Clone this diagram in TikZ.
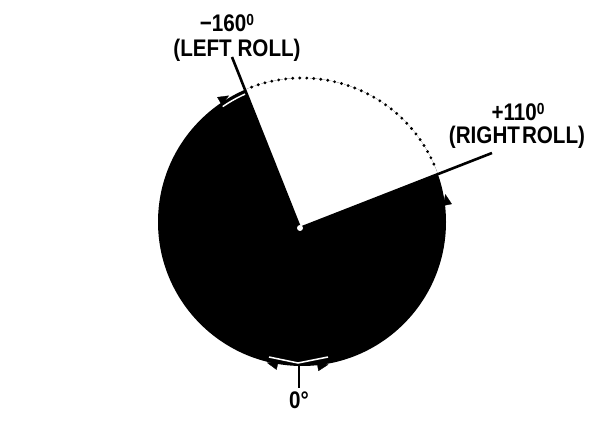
\documentclass[tikz,border=0pt]{standalone}
\usepackage{fontspec}
\setmainfont{Liberation Sans}[FakeStretch=0.86]
\usetikzlibrary{arrows.meta}
\begin{document}
\begin{tikzpicture}[x=1pt,y=1pt,
  lbl/.style={font=\bfseries\fontsize{24}{24}\selectfont, inner sep=0pt},
  limitline/.style={line width=2.6pt},
  dotmark/.style={fill=black},
  whiteedge/.style={white, line width=1.5pt},
  edgearrow/.style={white, line width=0.3pt, -{Triangle[length=11pt,width=9pt,black]}},
  tick/.style={line width=1.8pt}
]
\useasboundingbox (0,0) rectangle (603,423);
\coordinate (C) at (302,201);
\coordinate (P) at (300,195);
\coordinate (L) at (232,366);
\coordinate (R) at (492,270);
% disc and open wedge
\fill[black] (C) circle[radius=144];
\fill[white] (P) -- ([shift={(113.3:144)}]C) arc[start angle=113.3,end angle=19.8,radius=144] -- cycle;
% dotted arc across the opening
\foreach \a in {110.5,107.7,...,22} {
  \fill[dotmark] ([shift={(\a:144)}]C) circle[radius=1.6];
}
% limit lines
\draw[limitline] (P) -- (L);
\draw[limitline] (P) -- (R);
% pivot
\fill[white] (P) circle[radius=3];
% edge arrows
\draw[whiteedge] ([shift={(124.5:140)}]C) arc[start angle=124.5,end angle=114,radius=140];
\draw[edgearrow] ([shift={(128:146)}]C) arc[start angle=128,end angle=120,radius=146];
\draw[edgearrow] ([shift={(3:146)}]C) arc[start angle=3,end angle=11,radius=146];
\coordinate (bc) at (298,60);
\coordinate (bl) at (269,66);
\coordinate (br) at (328,66);
\draw[whiteedge] (bl) -- (bc) -- (br);
\draw[edgearrow] ([shift={(264:145)}]C) arc[start angle=264,end angle=256,radius=145];
\draw[edgearrow] ([shift={(272.5:145)}]C) arc[start angle=272.5,end angle=280.5,radius=145];
\coordinate (tt) at (299,57);
\coordinate (tb) at (299,35);
\draw[tick] (tt) -- (tb);
% labels
\node[lbl] (n160) at (227,400) {\textminus160\raisebox{6pt}{\fontsize{16}{16}\selectfont 0}};
\node[lbl] (nleft) at (237,373) {(LEFT ROLL)};
\node[lbl] (n110) at (518,311) {+110\raisebox{6pt}{\fontsize{16}{16}\selectfont 0}};
\node[lbl] (nright) at (517,286) {(RIGHT\hspace{2pt}ROLL)};
\node[lbl] (nzero) at (299,23) {0\textdegree};
\end{tikzpicture}
\end{document}
